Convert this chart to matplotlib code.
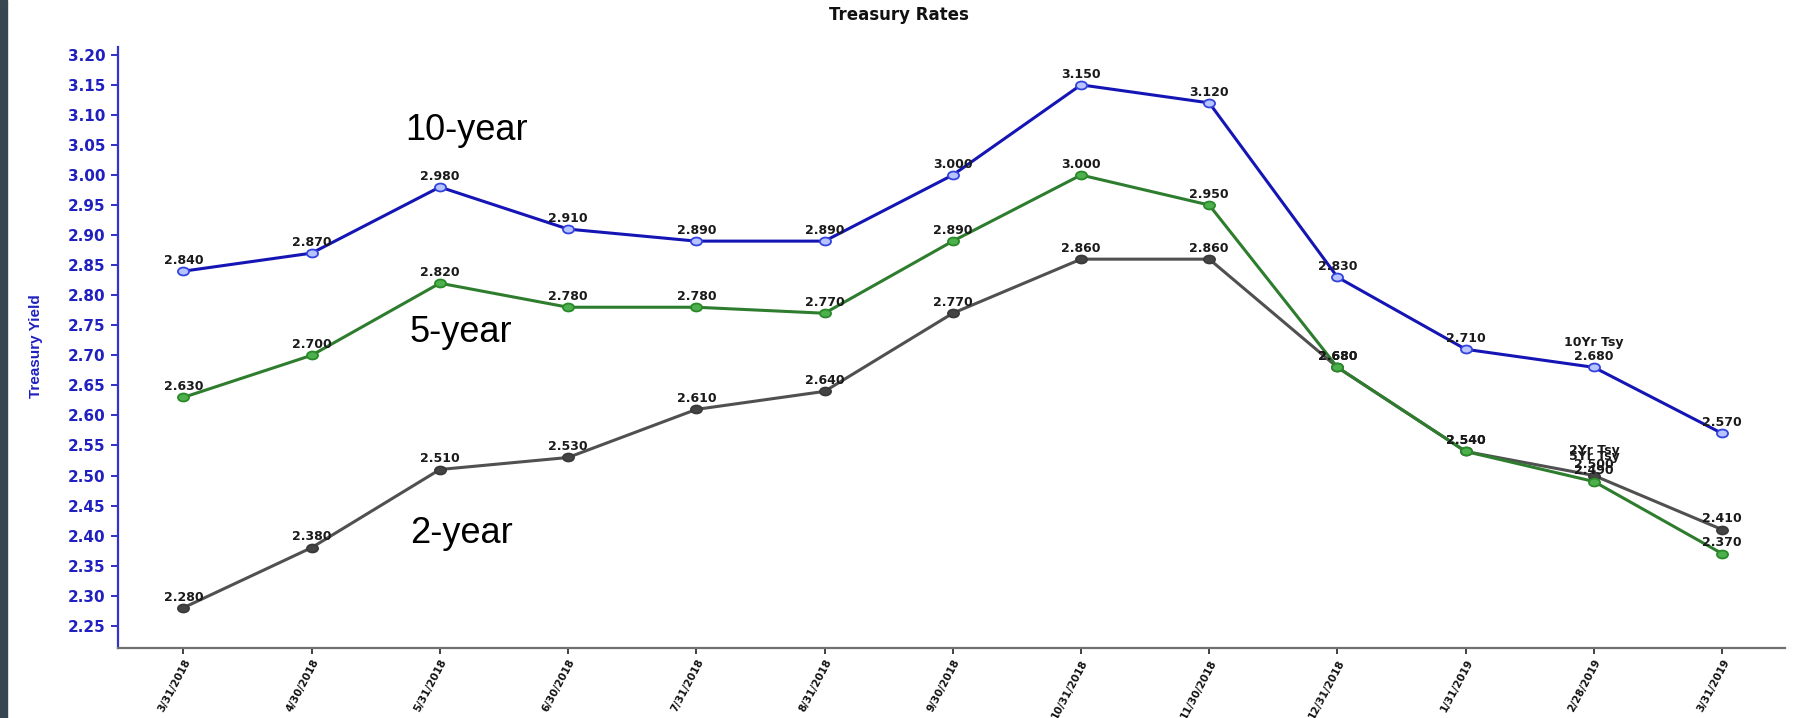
import numpy as np
import matplotlib.pyplot as plt
from matplotlib.path import Path
from matplotlib.transforms import Affine2D
from matplotlib.patches import Rectangle

# Data
dates = ['3/31/2018', '4/30/2018', '5/31/2018', '6/30/2018', '7/31/2018', '8/31/2018',
         '9/30/2018', '10/31/2018', '11/30/2018', '12/31/2018', '1/31/2019', '2/28/2019',
         '3/31/2019']
tsy_10yr = [2.84, 2.87, 2.98, 2.91, 2.89, 2.89, 3.00, 3.15, 3.12, 2.83, 2.71, 2.68, 2.57]
tsy_5yr = [2.63, 2.70, 2.82, 2.78, 2.78, 2.77, 2.89, 3.00, 2.95, 2.68, 2.54, 2.49, 2.37]
tsy_2yr = [2.28, 2.38, 2.51, 2.53, 2.61, 2.64, 2.77, 2.86, 2.86, 2.68, 2.54, 2.50, 2.41]
yticks = np.round(np.arange(2.25, 3.2001, 0.05), 2)

x = np.arange(len(dates))

# Wide ellipse marker (source chart is stretched horizontally)
ellipse = Affine2D().scale(1.4, 1.0).transform_path(Path.unit_circle())

fig = plt.figure(figsize=(17.97, 7.18), dpi=100)
ax = fig.add_axes([118/1797, 70/718, (1785-118)/1797, (648-47)/718])

# dark strip on the left edge
fig.patches.append(Rectangle((0, 0), 7/1797, 1, transform=fig.transFigure,
                             color='#36454f', zorder=0))

series = [
    ('2Yr Tsy', tsy_2yr, '#505050', '#444444', '#3a3a3a'),
    ('5Yr Tsy', tsy_5yr, '#2e7d2e', '#4cb04c', '#2a8a2a'),
    ('10Yr Tsy', tsy_10yr, '#1515b5', '#b8c4ff', '#3344dd'),
]

lbl_font = dict(family='DejaVu Sans', fontweight='bold', fontsize=9, color='#1a1a1a')

for i, (name, vals, lc, fc, ec) in enumerate(series):
    ax.plot(x, vals, color=lc, linewidth=2.2, marker=ellipse, markersize=8,
            markerfacecolor=fc, markeredgecolor=ec, markeredgewidth=1.3, zorder=2 + i)
    for xi, v in zip(x, vals):
        ax.annotate(f'{v:.3f}', (xi, v), xytext=(0, 3), textcoords='offset points',
                    ha='center', va='bottom', zorder=10, **lbl_font)
    # series name above the second-to-last point
    ax.annotate(name, (x[-2], vals[-2]), xytext=(0, 13), textcoords='offset points',
                ha='center', va='bottom', zorder=10, **lbl_font)

# Big overlay labels
big = dict(family='Liberation Sans', fontsize=26, color='black', ha='left', va='baseline')
ax.text(1.73, 3.058, '10-year', **big)
ax.text(1.76, 2.722, '5-year', **big)
ax.text(1.77, 2.387, '2-year', **big)

# Axes styling
ax.set_xlim(-0.51, 12.49)
ax.set_ylim(2.213, 3.213)
ax.set_xticks(x)
ax.set_xticklabels(dates, rotation=62, ha='right', va='top', rotation_mode='anchor',
                   fontsize=7.5, fontweight='bold', family='DejaVu Sans')
ax.set_yticks(yticks)
ax.set_yticklabels([f'{t:.2f}' for t in yticks], fontsize=11, fontweight='bold',
                   family='DejaVu Sans', color='#2020c0')
ax.tick_params(axis='y', colors='#2020c0', length=5, width=1.3, pad=4)
ax.tick_params(axis='x', colors='#333333', length=4, width=1.3, pad=3)
for lab in ax.get_xticklabels():
    lab.set_color('#111111')
for lab in ax.get_yticklabels():
    lab.set_color('#2020c0')

ax.spines['top'].set_visible(False)
ax.spines['right'].set_visible(False)
ax.spines['left'].set_color('#3333cc')
ax.spines['left'].set_linewidth(1.6)
ax.spines['bottom'].set_color('#707070')
ax.spines['bottom'].set_linewidth(1.6)

fig.text(36/1797, 1 - 346/718, 'Treasury Yield', rotation=90, ha='center', va='center',
         family=['Liberation Sans Narrow', 'Liberation Sans'], fontweight='bold',
         fontsize=11, color='#2020c0')
fig.text(899/1797, 1 - 15/718, 'Treasury Rates', ha='center', va='center',
         family='DejaVu Sans', fontweight='bold', fontsize=12, color='#111111')

fig.savefig('out.png', dpi=100)
